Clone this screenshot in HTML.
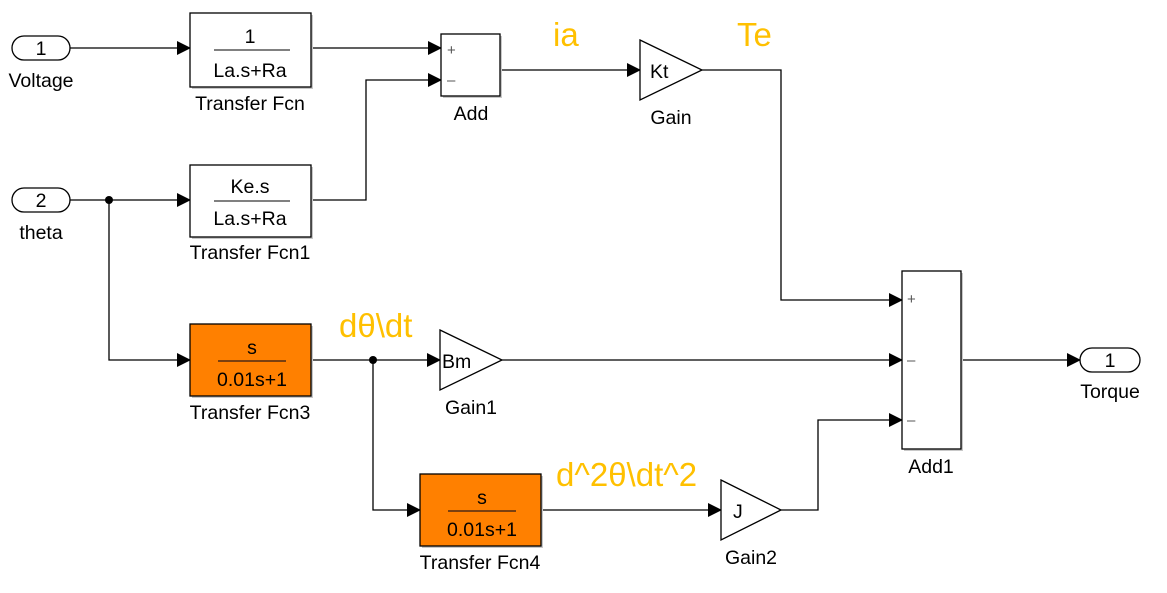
<!DOCTYPE html>
<html><head><meta charset="utf-8"><style>
html,body{margin:0;padding:0;background:#fff;}
svg{display:block;}
text{font-family:"Liberation Sans",Arial,sans-serif;}
</style></head><body>
<svg width="1167" height="593" viewBox="0 0 1167 593" xmlns="http://www.w3.org/2000/svg">
<defs>
<marker id="ar" markerWidth="14" markerHeight="14" refX="13" refY="7" orient="auto" markerUnits="userSpaceOnUse">
<path d="M0,0 L14,7 L0,14 Z" fill="#000"/></marker>
</defs>
<g fill="none" stroke="#000" stroke-width="1.3">
<path d="M70,48 H190" marker-end="url(#ar)"/>
<path d="M311,48 H441" marker-end="url(#ar)"/>
<path d="M70,200 H190" marker-end="url(#ar)"/>
<path d="M311,200 H366 V80 H441" marker-end="url(#ar)"/>
<path d="M109,200 V360 H190" marker-end="url(#ar)"/>
<path d="M500,70 H640" marker-end="url(#ar)"/>
<path d="M702,70 H781 V300 H902" marker-end="url(#ar)"/>
<path d="M311,360 H440" marker-end="url(#ar)"/>
<path d="M373,360 V510 H420" marker-end="url(#ar)"/>
<path d="M502,360 H902" marker-end="url(#ar)"/>
<path d="M541,510 H721" marker-end="url(#ar)"/>
<path d="M781,510 H818 V420 H902" marker-end="url(#ar)"/>
<path d="M961,360 H1080" marker-end="url(#ar)"/>
</g>
<circle cx="109" cy="200" r="4" fill="#000"/>
<circle cx="373" cy="360" r="4" fill="#000"/>

<g stroke="#000" stroke-width="1.3">
<g stroke="none" fill="#c8c8c8">
<rect x="192" y="15" width="121" height="74"/>
<rect x="192" y="167" width="121" height="72"/>
<rect x="443" y="36" width="59" height="62"/>
<rect x="192" y="326" width="121" height="72"/>
<rect x="422" y="476" width="121" height="72"/>
<rect x="904" y="273" width="59" height="178"/>
</g>
<rect x="190" y="13" width="121" height="74" fill="#fff"/>
<rect x="190" y="165" width="121" height="72" fill="#fff"/>
<rect x="441" y="34" width="59" height="62" fill="#fff"/>
<rect x="190" y="324" width="121" height="72" fill="#ff8000"/>
<rect x="420" y="474" width="121" height="72" fill="#ff8000"/>
<rect x="902" y="271" width="59" height="178" fill="#fff"/>
<path d="M640,40 L702,70 L640,100 Z" fill="#fff"/>
<path d="M440,330 L502,360 L440,390 Z" fill="#fff"/>
<path d="M721,480 L781,510 L721,540 Z" fill="#fff"/>
<rect x="12" y="36" width="58" height="24" rx="12" fill="#fff"/>
<rect x="12" y="188" width="58" height="24" rx="12" fill="#fff"/>
<rect x="1080" y="348" width="60" height="24" rx="12" fill="#fff"/>
</g>
<g stroke-width="2">
<line x1="214" y1="50" x2="290" y2="50" stroke="#808080"/>
<line x1="214" y1="201" x2="290" y2="201" stroke="#808080"/>
<line x1="218" y1="361" x2="286" y2="361" stroke="#7a4010"/>
<line x1="448" y1="511" x2="516" y2="511" stroke="#7a4010"/>
</g>

<g font-size="19.5" fill="#000" text-anchor="middle">
<text x="41" y="55">1</text>
<text x="41" y="207">2</text>
<text x="1110" y="367">1</text>
<text x="250" y="43">1</text>
<text x="250" y="77">La.s+Ra</text>
<text x="250" y="193">Ke.s</text>
<text x="250" y="225">La.s+Ra</text>
<text x="252" y="354">s</text>
<text x="252" y="386">0.01s+1</text>
<text x="482" y="504">s</text>
<text x="482" y="536">0.01s+1</text>
<text x="650" y="78" text-anchor="start">Kt</text>
<text x="442" y="368" text-anchor="start">Bm</text>
<text x="733" y="518" text-anchor="start">J</text>
</g>
<g font-size="19.5" fill="#000" text-anchor="middle">
<text x="41" y="87">Voltage</text>
<text x="41" y="239">theta</text>
<text x="250" y="110">Transfer Fcn</text>
<text x="250" y="259">Transfer Fcn1</text>
<text x="250" y="419">Transfer Fcn3</text>
<text x="480" y="569">Transfer Fcn4</text>
<text x="471" y="120">Add</text>
<text x="671" y="124">Gain</text>
<text x="471" y="414">Gain1</text>
<text x="751" y="564">Gain2</text>
<text x="931" y="473">Add1</text>
<text x="1110" y="398">Torque</text>
</g>
<g font-size="15" fill="#555">
<text x="447" y="55">+</text>
<text x="447" y="85">–</text>
<text x="907" y="304">+</text>
<text x="907" y="365">–</text>
<text x="907" y="425">–</text>
</g>
<g font-size="33" fill="#ffc000">
<text x="553" y="46">ia</text>
<text x="737" y="46">Te</text>
<text x="339" y="337">dθ\dt</text>
<text x="556" y="486">d^2θ\dt^2</text>
</g>
</svg>
</body></html>
